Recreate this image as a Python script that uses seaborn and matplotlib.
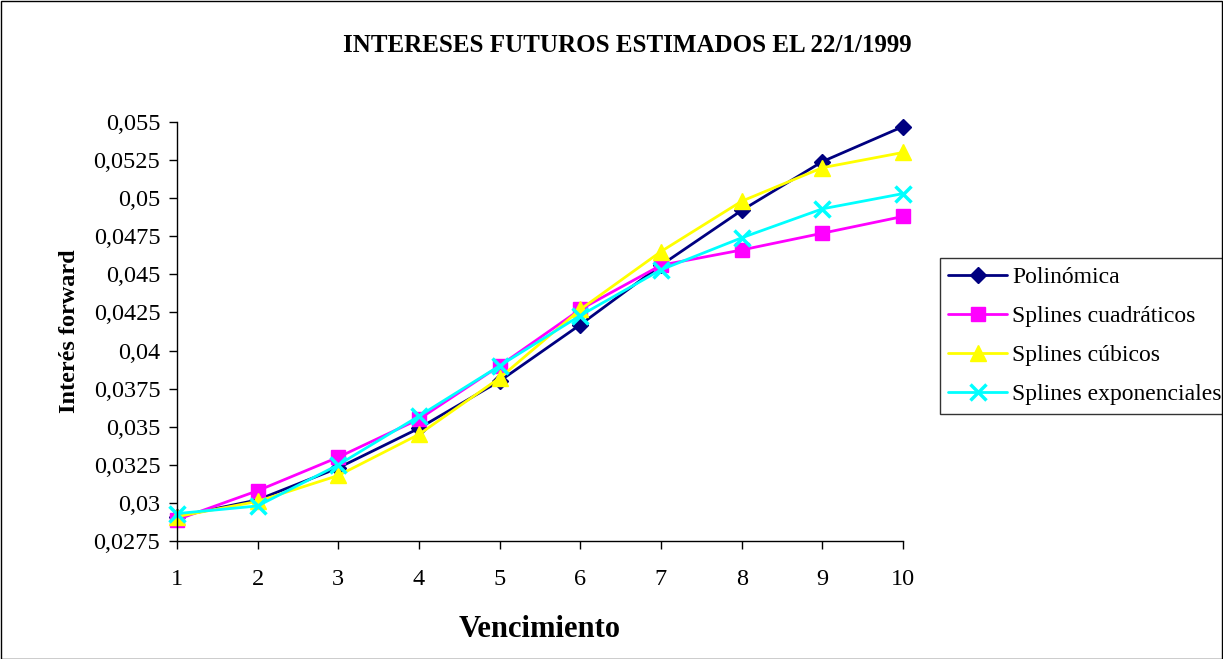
import pandas as pd
import matplotlib.pyplot as plt
import seaborn as sns
from matplotlib.patches import Rectangle

# --- Data ---
vencimiento = [1, 2, 3, 4, 5, 6, 7, 8, 9, 10]
polinomica = [0.0291, 0.0302, 0.0323, 0.0349, 0.0380, 0.0417, 0.0456, 0.0492, 0.0524, 0.0547]
splines_cuadraticos = [0.0289, 0.0308, 0.0330, 0.0355, 0.0390, 0.0427, 0.0456, 0.0466, 0.0477, 0.0488]
splines_cubicos = [0.0291, 0.0301, 0.0318, 0.0345, 0.0382, 0.0427, 0.0465, 0.0498, 0.0520, 0.0530]
splines_exponenciales = [0.0293, 0.0298, 0.0325, 0.0357, 0.0390, 0.0423, 0.0453, 0.0474, 0.0493, 0.0503]

series_names = ["Polinómica", "Splines cuadráticos", "Splines cúbicos", "Splines exponenciales"]
y_ticks = [0.0275, 0.03, 0.0325, 0.035, 0.0375, 0.04, 0.0425, 0.045, 0.0475, 0.05, 0.0525, 0.055]
y_tick_labels = ["0,0275", "0,03", "0,0325", "0,035", "0,0375", "0,04",
                 "0,0425", "0,045", "0,0475", "0,05", "0,0525", "0,055"]

df = pd.DataFrame({
    "Vencimiento": vencimiento * 4,
    "Interés": polinomica + splines_cuadraticos + splines_cubicos + splines_exponenciales,
    "Serie": [s for s in series_names for _ in vencimiento],
})

# --- Style ---
sns.set_style("white")
plt.rcParams["font.family"] = ["Liberation Serif", "DejaVu Serif"]
plt.rcParams["text.color"] = "black"
plt.rcParams["axes.labelcolor"] = "black"
plt.rcParams["xtick.color"] = "black"
plt.rcParams["ytick.color"] = "black"

colors = {"Polinómica": "#000080", "Splines cuadráticos": "#FF00FF",
          "Splines cúbicos": "#FFFF00", "Splines exponenciales": "#00FFFF"}
markers = {"Polinómica": "D", "Splines cuadráticos": "s",
           "Splines cúbicos": "^", "Splines exponenciales": "x"}
msizes = {"Polinómica": 8, "Splines cuadráticos": 10,
          "Splines cúbicos": 11, "Splines exponenciales": 11}

fig = plt.figure(figsize=(12.23, 6.59), dpi=100)
ax = fig.add_axes([177 / 1223, 1 - 541 / 659, (903 - 177) / 1223, (541 - 122) / 659])

for name in series_names:
    sub = df[df["Serie"] == name]
    sns.lineplot(data=sub, x="Vencimiento", y="Interés", color=colors[name],
                 marker=markers[name], markersize=msizes[name],
                 markeredgecolor=colors[name], markerfacecolor=colors[name],
                 markeredgewidth=2.5 if markers[name] == "x" else 1,
                 linewidth=2, label=name, ax=ax, clip_on=False)

ax.set_xlim(1, 10)
ax.set_ylim(0.0275, 0.055)
ax.set_xticks(vencimiento)
ax.set_xticklabels([str(v) for v in vencimiento], fontsize=17.5)
ax.set_yticks(y_ticks)
ax.set_yticklabels(y_tick_labels, fontsize=17.5)
ax.tick_params(axis="both", direction="out", length=6, width=1, color="black",
               labelcolor="black", left=True, bottom=True)
ax.tick_params(axis="x", pad=14)
ax.tick_params(axis="y", pad=6)
for side in ["top", "right"]:
    ax.spines[side].set_visible(False)
for side in ["left", "bottom"]:
    ax.spines[side].set_color("black")
    ax.spines[side].set_linewidth(1)

ax.set_xlabel("Vencimiento", fontsize=22, fontweight="bold", labelpad=18, color="black")
ax.set_ylabel("Interés forward", fontsize=17.5, fontweight="bold", labelpad=10, color="black")
fig.text(627 / 1223, 1 - 45 / 659, "INTERESES FUTUROS ESTIMADOS EL 22/1/1999",
         ha="center", va="center", fontsize=18, fontweight="bold", color="black")

# legend (the reference chart crops it at the right edge)
handles, labels = ax.get_legend_handles_labels()
leg = ax.legend(handles, labels, loc="upper left",
                bbox_to_anchor=(940 / 1223, 1 - 258 / 659), bbox_transform=fig.transFigure,
                frameon=True, fancybox=False, edgecolor="black", fontsize=17,
                handlelength=2.5, handletextpad=0.2, labelspacing=0.75, borderpad=0.35,
                borderaxespad=0)
leg.get_frame().set_linewidth(1)
for t in leg.get_texts():
    t.set_color("black")

# outer chart border
fig.patches.append(Rectangle((0.5 / 1223, 0.5 / 659), 1 - 1.5 / 1223, 1 - 1.5 / 659,
                             transform=fig.transFigure, fill=False,
                             edgecolor="black", linewidth=1))

plt.savefig("out.png", dpi=100)
